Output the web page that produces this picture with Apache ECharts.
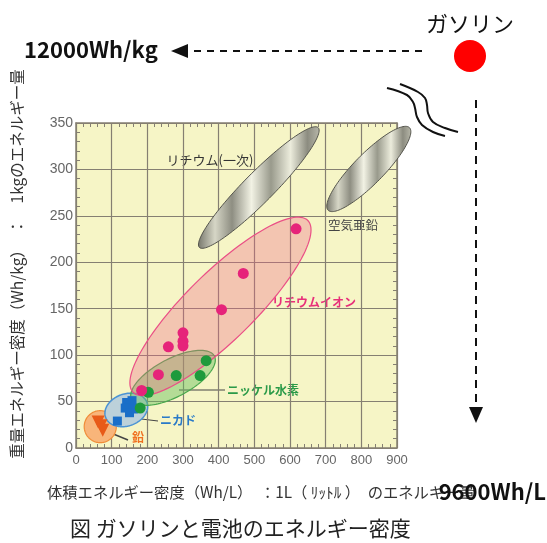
<!DOCTYPE html>
<html>
<head>
<meta charset="utf-8">
<script src="https://cdn.jsdelivr.net/npm/echarts@6/dist/echarts.min.js"></script>
<style>
html, body { margin: 0; padding: 0; background: #fff; }
#main { width: 547px; height: 543px; }
</style>
</head>
<body>
<div id="main"></div>
<script>
// axis ranges (Wh/L horizontally, Wh/kg vertically)
const xRange = [0, 900];
const yRange = [0, 350];

// measured batteries [Wh/L, Wh/kg]
const liIon = [[617, 236], [469, 188], [408, 149], [300, 124], [300, 115], [300, 110], [259, 109], [231, 79], [184, 62]];
const niMH = [[365, 94], [348, 78], [281, 78], [203, 60], [180, 43]];
const niCd = [[142, 49], [157, 51], [138, 43], [161, 42], [150, 38], [116, 29]];
const lead = [[62, 28], [70, 24], [75, 19]];

// the groups' areas: both ends of the long axis [x1, y1, x2, y2]
const liPrimaryArea = [346, 216, 679, 345];
const airZincArea = [707, 256, 935, 345];
const liIonArea = [160, 60, 650, 245];
const niMHArea = [156, 52, 388, 99];
const niCdArea = [83, 33, 199, 49];
const leadArea = [23, 23, 113, 23];

const frameColor = '#857f72';
const jp = '"Noto Sans CJK JP", sans-serif';

const chart = echarts.init(document.getElementById('main'));

function ellipse(halfWidth, style) {
  return function (params, api) {
    const p1 = api.coord([api.value(0), api.value(1)]);
    const p2 = api.coord([api.value(2), api.value(3)]);
    const cx = (p1[0] + p2[0]) / 2, cy = (p1[1] + p2[1]) / 2;
    const a = Math.hypot(p2[0] - p1[0], p2[1] - p1[1]) / 2;
    const t = Math.atan2(p2[1] - p1[1], p2[0] - p1[0]);
    const pts = [];
    for (let i = 0; i < 120; i++) {
      const u = i / 120 * Math.PI * 2;
      const ex = a * Math.cos(u), ey = halfWidth * Math.sin(u);
      pts.push([cx + ex * Math.cos(t) - ey * Math.sin(t), cy + ex * Math.sin(t) + ey * Math.cos(t)]);
    }
    return { type: 'polygon', shape: { points: pts }, style: style };
  };
}

function area(data, halfWidth, style) {
  return {
    type: 'custom', silent: true, clip: false,
    data: [data], encode: { x: [0, 2], y: [1, 3] },
    renderItem: ellipse(halfWidth, style)
  };
}

function metal() {
  return new echarts.graphic.LinearGradient(0, 0, 1, 0, [
    { offset: 0, color: '#77776c' },
    { offset: 0.14, color: '#d6d6c6' },
    { offset: 0.28, color: '#8e8e82' },
    { offset: 0.44, color: '#f2f2e4' },
    { offset: 0.6, color: '#999a8c' },
    { offset: 0.76, color: '#ececdc' },
    { offset: 0.9, color: '#8c8c80' },
    { offset: 1, color: '#b8b8aa' }
  ]);
}

function dots(data, symbol, size, color, rotate) {
  return {
    type: 'scatter', data: data, symbol: symbol, symbolSize: size,
    symbolRotate: rotate || 0, silent: true,
    itemStyle: { color: color, opacity: 1 }
  };
}

const tickLabel = { color: '#666', fontSize: 13, fontFamily: 'Liberation Sans' };

function axisCommon(extra) {
  return Object.assign({
    type: 'value',
    axisLine: { show: true, onZero: false, lineStyle: { color: frameColor, width: 1.5 } },
    axisTick: { show: true, inside: true, length: 4, lineStyle: { color: frameColor } },
    minorTick: { show: true, splitNumber: 5, length: 4, lineStyle: { color: frameColor } },
    splitLine: { show: false }
  }, extra);
}

const option = {
  animation: false,
  grid: { left: 76, right: 150, top: 123, bottom: 95, show: true, backgroundColor: '#f6f5c6', borderWidth: 0 },
  xAxis: [
    axisCommon({ min: xRange[0], max: xRange[1], interval: 100, position: 'bottom',
      axisLabel: Object.assign({ margin: 6 }, tickLabel),
      splitLine: { show: true, lineStyle: { color: frameColor, width: 1.2 } } }),
    axisCommon({ min: xRange[0], max: xRange[1], interval: 100, position: 'top', axisLabel: { show: false } })
  ],
  yAxis: [
    axisCommon({ min: yRange[0], max: yRange[1], interval: 50, position: 'left',
      axisLabel: Object.assign({ margin: 3 }, tickLabel, { fontSize: 14 }),
      splitLine: { show: true, lineStyle: { color: frameColor, width: 1.2 } } }),
    axisCommon({ min: yRange[0], max: yRange[1], interval: 50, position: 'right', axisLabel: { show: false } })
  ],
  series: [
    area(leadArea, 16, { fill: '#f8b57a', stroke: '#f08c38', lineWidth: 1.2 }),
    dots(lead, 'triangle', 13, '#e85a18', 180),
    area(niCdArea, 16, { fill: '#bcd1da', stroke: '#4a93d4', lineWidth: 1.5 }),
    dots(niCd, 'rect', 9, '#1a6ec8'),
    area(niMHArea, 19, { fill: 'rgba(100,190,90,0.45)', stroke: '#4aa84e', lineWidth: 1.2 }),
    dots(niMH, 'circle', 11, '#1e9a3c'),
    area(liPrimaryArea, 15, { fill: metal(), stroke: '#55554d', lineWidth: 1 }),
    area(airZincArea, 15, { fill: metal(), stroke: '#55554d', lineWidth: 1 }),
    area(liIonArea, 34, { fill: 'rgba(236,100,135,0.33)', stroke: '#ea4f86', lineWidth: 1.2 }),
    dots(liIon, 'circle', 11, '#e6237a')
  ],
  graphic: [
    // labels inside the plot
    { type: 'text', x: 210, y: 160, style: { text: 'リチウム(一次)', font: '13px ' + jp, fill: '#333', align: 'center', verticalAlign: 'middle' } },
    { type: 'text', x: 353, y: 225, style: { text: '空気亜鉛', font: '12.5px ' + jp, fill: '#444', align: 'center', verticalAlign: 'middle' } },
    { type: 'text', x: 314, y: 302, style: { text: 'リチウムイオン', font: 'bold 12px ' + jp, fill: '#e8307a', align: 'center', verticalAlign: 'middle' } },
    { type: 'text', x: 263, y: 390, style: { text: 'ニッケル水素', font: 'bold 12px ' + jp, fill: '#2a9a48', align: 'center', verticalAlign: 'middle' } },
    { type: 'text', x: 178, y: 420, style: { text: 'ニカド', font: 'bold 12px ' + jp, fill: '#2a7ac8', align: 'center', verticalAlign: 'middle' } },
    { type: 'text', x: 138, y: 437, style: { text: '鉛', font: 'bold 12px ' + jp, fill: '#f07020', align: 'center', verticalAlign: 'middle' } },
    { type: 'line', shape: { x1: 179, y1: 390, x2: 225, y2: 390 }, style: { stroke: '#444', lineWidth: 1 } },
    { type: 'line', shape: { x1: 133, y1: 418, x2: 158, y2: 421 }, style: { stroke: '#444', lineWidth: 1 } },
    { type: 'line', shape: { x1: 106, y1: 431, x2: 128, y2: 440 }, style: { stroke: '#444', lineWidth: 1.5 } },
    // gasoline marker and arrows
    { type: 'text', x: 470, y: 24, style: { text: 'ガソリン', font: '22px ' + jp, fill: '#111', align: 'center', verticalAlign: 'middle' } },
    { type: 'circle', shape: { cx: 470, cy: 56, r: 16 }, style: { fill: '#ff0000' } },
    { type: 'text', x: 24, y: 50, style: { text: '12000Wh/kg', font: 'bold 22px ' + jp, fill: '#111', align: 'left', verticalAlign: 'middle' } },
    { type: 'line', shape: { x1: 422, y1: 51, x2: 186, y2: 51 }, style: { stroke: '#111', lineWidth: 2, lineDash: [7, 6] } },
    { type: 'polygon', shape: { points: [[171, 51], [188, 44], [188, 58]] }, style: { fill: '#111' } },
    { type: 'line', shape: { x1: 476, y1: 100, x2: 476, y2: 408 }, style: { stroke: '#111', lineWidth: 2, lineDash: [8, 6] } },
    { type: 'polygon', shape: { points: [[476, 423], [469, 407], [483, 407]] }, style: { fill: '#111' } },
    { type: 'polyline', shape: { smooth: 0.4, points: [[387, 88], [407, 95], [413, 102], [415, 108], [417, 117], [422, 125], [433, 132], [445, 136]] }, style: { stroke: '#111', lineWidth: 2, fill: null } },
    { type: 'polyline', shape: { smooth: 0.4, points: [[400, 84], [418, 92], [425, 98], [427, 105], [428, 113], [433, 122], [445, 128], [458, 132]] }, style: { stroke: '#111', lineWidth: 2, fill: null } },
    // axis titles and caption
    { type: 'text', x: 17, y: 264, rotation: Math.PI / 2, style: { text: '重量エネルギー密度（Wh/kg）　：　1kgのエネルギー量', font: '15.5px ' + jp, fill: '#333', align: 'center', verticalAlign: 'middle' } },
    { type: 'text', x: 47, y: 492, style: { text: '体積エネルギー密度（Wh/L）　：1L（ ﾘｯﾄﾙ ）　のエネルギー量', font: '15.3px ' + jp, fill: '#333', align: 'left', verticalAlign: 'middle' } },
    { type: 'text', x: 546, y: 492, style: { text: '9600Wh/L', font: 'bold 22px ' + jp, fill: '#111', align: 'right', verticalAlign: 'middle' } },
    { type: 'text', x: 70, y: 528, style: { text: '図 ガソリンと電池のエネルギー密度', font: '21px ' + jp, fill: '#222', align: 'left', verticalAlign: 'middle' } }
  ]
};

chart.setOption(option);
</script>
</body>
</html>
